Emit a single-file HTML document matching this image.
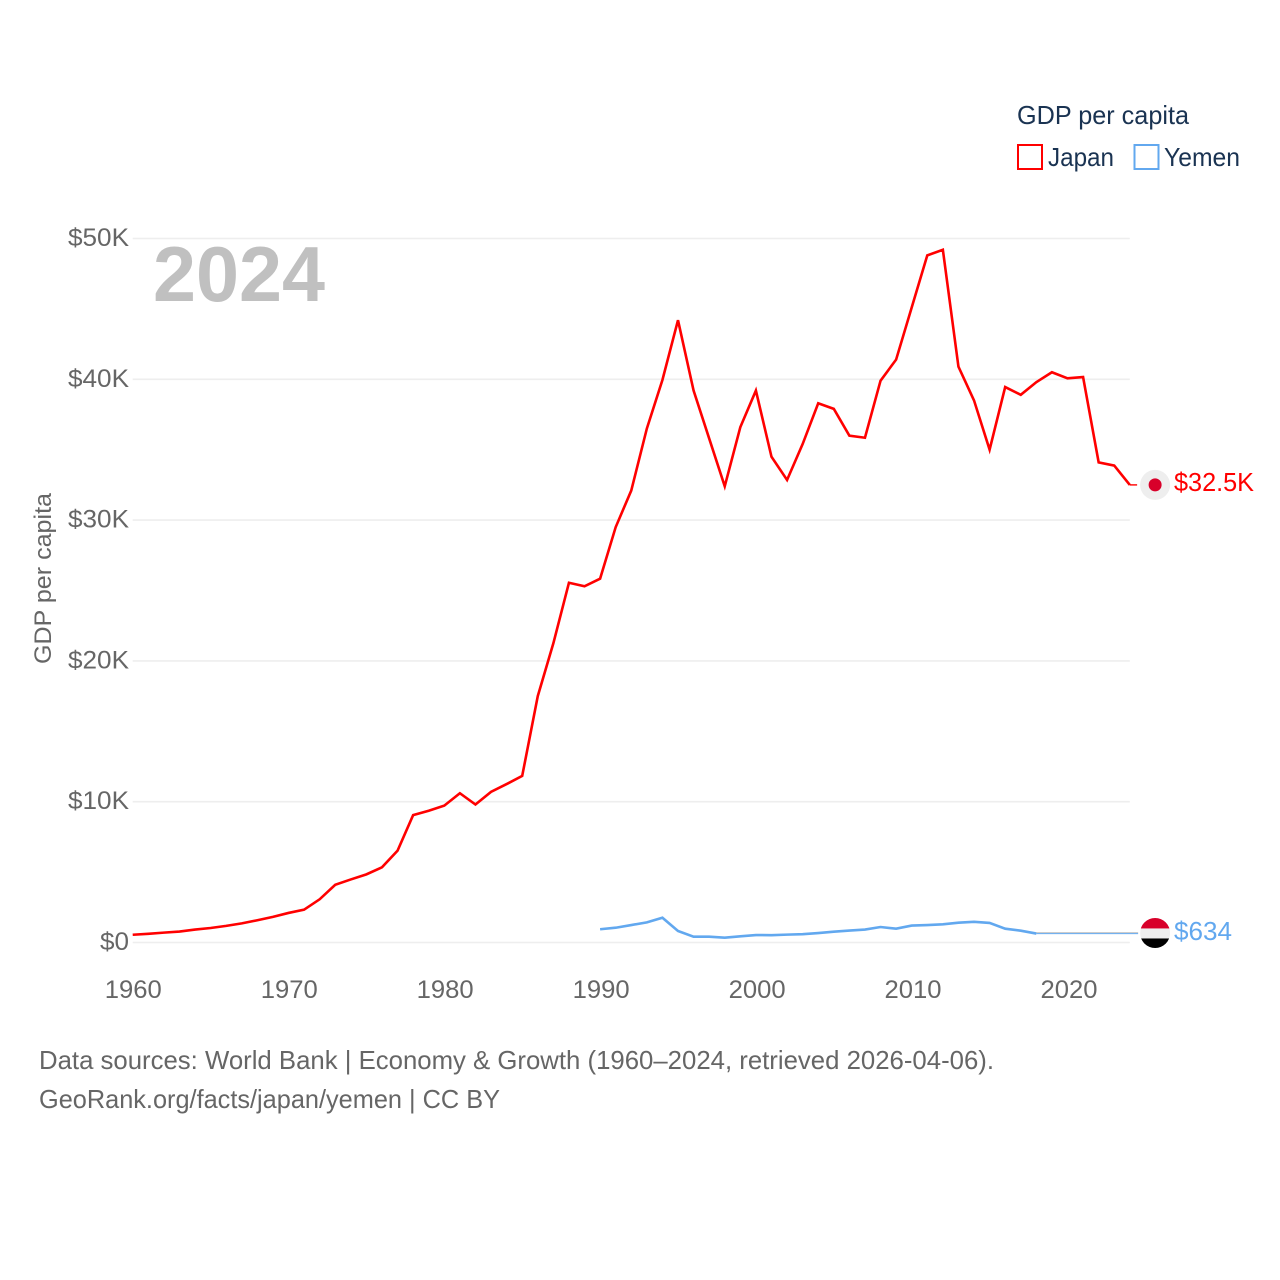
<!DOCTYPE html>
<html lang="en">
<head>
<meta charset="utf-8">
<title>GDP per capita: Japan and Yemen</title>
<style>
html,body{margin:0;padding:0;background:#fff;}
#chart{display:block;width:1280px;height:1280px;}
text{font-family:"Liberation Sans",sans-serif;}
</style>
</head>
<body>
<svg id="chart" xmlns="http://www.w3.org/2000/svg" width="1280" height="1280" viewBox="0 0 1280 1280">
  <rect x="0" y="0" width="1280" height="1280" fill="#fff"/>
  <text x="153" y="301" font-size="78" font-weight="700" fill="#c0c0c0" textLength="172" lengthAdjust="spacingAndGlyphs">2024</text>
  <text transform="translate(51,664) rotate(-90)" font-size="24.5" fill="#666" textLength="171" lengthAdjust="spacingAndGlyphs">GDP per capita</text>
  <g>
    <text x="1017" y="124" font-size="26" fill="#1a3352" textLength="172" lengthAdjust="spacingAndGlyphs">GDP per capita</text>
    <rect x="1018" y="145" width="24" height="24" fill="none" stroke="#ff0000" stroke-width="2"/>
    <text x="1048" y="166" font-size="26" fill="#1a3352" textLength="66" lengthAdjust="spacingAndGlyphs">Japan</text>
    <rect x="1134.5" y="145" width="24" height="24" fill="none" stroke="#62a8ef" stroke-width="2"/>
    <text x="1164" y="166" font-size="26" fill="#1a3352" textLength="76" lengthAdjust="spacingAndGlyphs">Yemen</text>
  </g>
  <g id="grid"></g>
  <g id="yticks"></g>
  <g id="xticks"></g>
  <g id="series"></g>
  <g id="ends"></g>
  <g>
    <text x="39" y="1069" font-size="26" fill="#666" textLength="955" lengthAdjust="spacingAndGlyphs">Data sources: World Bank | Economy &amp; Growth (1960–2024, retrieved 2026-04-06).</text>
    <text x="39" y="1108" font-size="26" fill="#666" textLength="461" lengthAdjust="spacingAndGlyphs">GeoRank.org/facts/japan/yemen | CC BY</text>
  </g>
</svg>
<script>
const xTickYears = [1960, 1970, 1980, 1990, 2000, 2010, 2020];
const yTickValues = [0, 10000, 20000, 30000, 40000, 50000];
const yTickLabels = ['$0', '$10K', '$20K', '$30K', '$40K', '$50K'];
const japanStartYear = 1960;
const yemenStartYear = 1990;
const latestYear = 2024;
const japanValues = [
  550, 620, 700, 780, 920, 1030, 1180, 1360, 1580, 1820,
  2100, 2330, 3070, 4100, 4480, 4840, 5340, 6520, 9050, 9360,
  9720, 10600, 9800, 10700, 11250, 11830, 17500, 21250, 25550, 25300,
  25840, 29500, 32100, 36500, 39950, 44200, 39200, 35800, 32400, 36600,
  39200, 34500, 32850, 35400, 38300, 37900, 36000, 35850, 39900, 41400,
  45100, 48800, 49200, 40900, 38500, 35000, 39450, 38900, 39800, 40500,
  40070, 40160, 34100, 33870, 32500
];
const yemenValues = [
  940, 1050, 1240, 1430, 1760, 820, 410, 410, 340, 440,
  530, 520, 560, 590, 670, 770, 850, 920, 1100, 980,
  1200, 1240, 1290, 1410, 1470, 1390, 980, 840, 634
];
const japanEndLabel = '$32.5K';
const yemenEndLabel = '$634';

const NS = 'http://www.w3.org/2000/svg';
function xScale(year) { return 132.7 + (year - 1960) * 15.58; }
function yScale(value) { return 942.5 - value * 0.01408; }
function make(tag, parent) {
  const el = document.createElementNS(NS, tag);
  parent.appendChild(el);
  return el;
}
function linePath(values, startYear) {
  return values.map(function (v, i) {
    return (i ? 'L' : 'M') + xScale(startYear + i).toFixed(2) + ' ' + yScale(v).toFixed(2);
  }).join(' ');
}

const gridGroup = document.getElementById('grid');
const yGroup = document.getElementById('yticks');
yTickValues.forEach(function (v, i) {
  const line = make('line', gridGroup);
  
  
  line.setAttribute('x1', xScale(1960));
  line.setAttribute('x2', xScale(latestYear));
  line.setAttribute('y1', yScale(v));
  line.setAttribute('y2', yScale(v));
  line.setAttribute('stroke', '#eeeeee');
  line.setAttribute('stroke-width', '1.6');

  const label = make('text', yGroup);
  
  
  label.setAttribute('x', 129);
  label.setAttribute('y', yScale(v) + 7.5);
  label.setAttribute('text-anchor', 'end');
  label.setAttribute('font-size', '25');
  label.setAttribute('fill', '#666');
  label.setAttribute('textLength', yTickLabels[i].length === 2 ? 29 : 61);
  label.setAttribute('lengthAdjust', 'spacingAndGlyphs');
  label.textContent = yTickLabels[i];
});

const xGroup = document.getElementById('xticks');
xTickYears.forEach(function (year) {
  const label = make('text', xGroup);
  
  
  label.setAttribute('x', xScale(year) + (year - 1960) * 0.015 + 0.6);
  label.setAttribute('y', 998);
  label.setAttribute('text-anchor', 'middle');
  label.setAttribute('font-size', '25');
  label.setAttribute('fill', '#666');
  label.setAttribute('textLength', '57');
  label.setAttribute('lengthAdjust', 'spacingAndGlyphs');
  label.textContent = String(year);
});

const seriesGroup = document.getElementById('series');
const japanLine = make('path', seriesGroup);


japanLine.setAttribute('d', linePath(japanValues, japanStartYear));
japanLine.setAttribute('fill', 'none');
japanLine.setAttribute('stroke', '#ff0000');
japanLine.setAttribute('stroke-width', '2.6');
japanLine.setAttribute('stroke-linejoin', 'miter');

const yemenLine = make('path', seriesGroup);


yemenLine.setAttribute('d', linePath(yemenValues, yemenStartYear));
yemenLine.setAttribute('fill', 'none');
yemenLine.setAttribute('stroke', '#62a8ef');
yemenLine.setAttribute('stroke-width', '2.6');

const endsGroup = document.getElementById('ends');
const japanLast = japanValues[japanValues.length - 1];
const yemenLast = yemenValues[yemenValues.length - 1];
const yemenLastYear = yemenStartYear + yemenValues.length - 1;
const flagX = xScale(latestYear) + 25.3;

const japanConnector = make('line', endsGroup);


japanConnector.setAttribute('x1', xScale(latestYear));
japanConnector.setAttribute('x2', flagX - 18);
japanConnector.setAttribute('y1', yScale(japanLast));
japanConnector.setAttribute('y2', yScale(japanLast));
japanConnector.setAttribute('stroke', '#ff0000');
japanConnector.setAttribute('stroke-width', '1.4');

const yemenConnectorGray = make('line', endsGroup);


yemenConnectorGray.setAttribute('x1', xScale(yemenLastYear));
yemenConnectorGray.setAttribute('x2', flagX - 17);
yemenConnectorGray.setAttribute('y1', yScale(yemenLast) - 0.9);
yemenConnectorGray.setAttribute('y2', yScale(yemenLast) - 0.9);
yemenConnectorGray.setAttribute('stroke', '#bbbbbb');
yemenConnectorGray.setAttribute('stroke-width', '0.9');

const yemenConnector = make('line', endsGroup);


yemenConnector.setAttribute('x1', xScale(yemenLastYear));
yemenConnector.setAttribute('x2', flagX - 17);
yemenConnector.setAttribute('y1', yScale(yemenLast));
yemenConnector.setAttribute('y2', yScale(yemenLast));
yemenConnector.setAttribute('stroke', '#62a8ef');
yemenConnector.setAttribute('stroke-width', '1');

const japanCy = yScale(japanLast);
const japanFlag = make('circle', endsGroup);


japanFlag.setAttribute('cx', flagX);
japanFlag.setAttribute('cy', japanCy);
japanFlag.setAttribute('r', '15');
japanFlag.setAttribute('fill', '#eeeeee');
const japanDisc = make('circle', endsGroup);


japanDisc.setAttribute('cx', flagX);
japanDisc.setAttribute('cy', japanCy);
japanDisc.setAttribute('r', '6.5');
japanDisc.setAttribute('fill', '#d8002a');

const japanValue = make('text', endsGroup);


japanValue.setAttribute('x', 1174);
japanValue.setAttribute('y', japanCy + 6);
japanValue.setAttribute('font-size', '26');
japanValue.setAttribute('fill', '#ff0000');
japanValue.setAttribute('textLength', '80');
japanValue.setAttribute('lengthAdjust', 'spacingAndGlyphs');
japanValue.textContent = japanEndLabel;

const yemenCy = yScale(yemenLast) - 0.6;
const clip = make('clipPath', endsGroup);
clip.setAttribute('id', 'yemen-clip');
const clipCircle = make('circle', clip);
clipCircle.setAttribute('cx', flagX);
clipCircle.setAttribute('cy', yemenCy);
clipCircle.setAttribute('r', '15');
const flag = make('g', endsGroup);


flag.setAttribute('clip-path', 'url(#yemen-clip)');
const redBand = make('rect', flag);


redBand.setAttribute('x', flagX - 15);
redBand.setAttribute('y', yemenCy - 15);
redBand.setAttribute('width', '30');
redBand.setAttribute('height', '10.5');
redBand.setAttribute('fill', '#d8002a');
const whiteBand = make('rect', flag);


whiteBand.setAttribute('x', flagX - 15);
whiteBand.setAttribute('y', yemenCy - 4.5);
whiteBand.setAttribute('width', '30');
whiteBand.setAttribute('height', '10');
whiteBand.setAttribute('fill', '#eeeeee');
const blackBand = make('rect', flag);


blackBand.setAttribute('x', flagX - 15);
blackBand.setAttribute('y', yemenCy + 5.5);
blackBand.setAttribute('width', '30');
blackBand.setAttribute('height', '10');
blackBand.setAttribute('fill', '#000000');

const yemenValue = make('text', endsGroup);


yemenValue.setAttribute('x', 1174);
yemenValue.setAttribute('y', yemenCy + 7);
yemenValue.setAttribute('font-size', '26');
yemenValue.setAttribute('fill', '#62a8ef');
yemenValue.setAttribute('textLength', '58');
yemenValue.setAttribute('lengthAdjust', 'spacingAndGlyphs');
yemenValue.textContent = yemenEndLabel;
</script>
</body>
</html>
